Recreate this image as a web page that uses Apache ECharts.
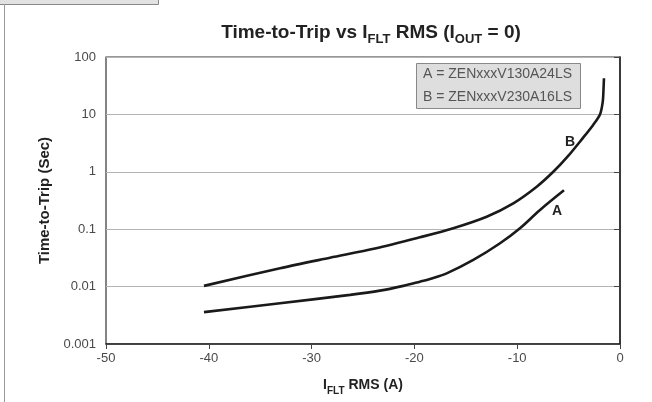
<!DOCTYPE html>
<html><head><meta charset="utf-8">
<script src="https://cdn.jsdelivr.net/npm/echarts@6/dist/echarts.min.js"></script>
<style>html,body{margin:0;padding:0;background:#fff}#c{width:652px;height:402px}</style>
</head><body><div id="c"></div>
<script>
// Curve A (ZENxxxV130A24LS)
const xA = [-40.47, -33.07, -26.26, -23.35, -21.08, -19.46, -18.48, -16.86, -14.27, -11.67, -9.73, -7.78, -5.45];
const yA = [0.00359, 0.00514, 0.00718, 0.0085, 0.0103, 0.0122, 0.0136, 0.0170, 0.0291, 0.0569, 0.104, 0.216, 0.475];
// Curve B (ZENxxxV230A16LS)
const xB = [-40.47, -33.07, -28.21, -23.83, -19.46, -16.22, -12.97, -10.38, -8.10, -6.49, -5.06, -3.70, -2.63, -1.95, -1.68, -1.60, -1.56];
const yB = [0.0103, 0.0209, 0.0318, 0.046, 0.0723, 0.104, 0.165, 0.282, 0.55, 1.0, 1.875, 3.71, 6.49, 9.95, 16.5, 28.6, 42.6];
// curve letter labels (data coords)
const labelA = [-6.13, 0.203];
const labelB = [-4.86, 3.29];
const yTicks = [0.001, 0.01, 0.1, 1, 10, 100];
const xTicks = [-50, -40, -30, -20, -10, 0];
const legendLines = ['A = ZENxxxV130A24LS', 'B = ZENxxxV230A16LS'];

const pairs = (xs, ys) => xs.map((x, i) => [x, ys[i]]);
const chart = echarts.init(document.getElementById('c'), null, {renderer: 'canvas'});
const FONT = 'Liberation Sans, Arial, sans-serif';
const lineStyle = {color: '#1a1a1a', width: 2.6};
function letter(name, coord) {
  return {
    symbol: 'circle', symbolSize: 2, silent: true,
    itemStyle: {color: 'rgba(0,0,0,0)'},
    label: {show: true, position: 'inside', formatter: name, fontFamily: FONT, fontWeight: 'bold', fontSize: 14, color: '#222'},
    data: [{coord: coord}]
  };
}
chart.setOption({
  animation: false,
  backgroundColor: '#fff',
  title: {
    text: '{b|Time-to-Trip vs I}{s|FLT}{b| RMS (I}{s|OUT}{b| = 0)}',
    left: 366, top: 15, textAlign: 'center',
    textStyle: {rich: {
      b: {fontFamily: FONT, fontWeight: 'bold', fontSize: 19, color: '#222', verticalAlign: 'bottom', lineHeight: 22},
      s: {fontFamily: FONT, fontWeight: 'bold', fontSize: 13, color: '#222', verticalAlign: 'bottom', lineHeight: 15, padding: [0, 0, -4, 0]}
    }}
  },
  grid: {left: 106, right: 32, top: 57, bottom: 58, show: true, borderColor: '#333', borderWidth: 1.2},
  xAxis: {
    type: 'value', min: xTicks[0], max: xTicks[xTicks.length - 1], interval: 10,
    name: '{b|I}{s|FLT}{b| RMS (A)}', nameLocation: 'middle', nameGap: 32,
    nameTextStyle: {rich: {
      b: {fontFamily: FONT, fontWeight: 'bold', fontSize: 14, color: '#222', verticalAlign: 'bottom', lineHeight: 16},
      s: {fontFamily: FONT, fontWeight: 'bold', fontSize: 10, color: '#222', verticalAlign: 'bottom', lineHeight: 12, padding: [0, 0, -4, 0]}
    }},
    axisLine: {show: true, onZero: false, lineStyle: {color: '#222', width: 1.5}},
    axisTick: {show: true, inside: false, length: 5, lineStyle: {color: '#444'}},
    axisLabel: {fontFamily: FONT, fontSize: 13, color: '#4a4a4a', margin: 8},
    splitLine: {show: false}
  },
  yAxis: {
    type: 'log', logBase: 10, min: yTicks[0], max: yTicks[yTicks.length - 1],
    name: 'Time-to-Trip (Sec)', nameLocation: 'middle', nameGap: 54, nameRotate: 90,
    nameTextStyle: {fontFamily: FONT, fontWeight: 'bold', fontSize: 15, color: '#222'},
    axisLine: {show: true, lineStyle: {color: '#222', width: 1.5}},
    axisTick: {show: true, inside: false, length: 6, lineStyle: {color: '#444'}},
    axisLabel: {fontFamily: FONT, fontSize: 13, color: '#4a4a4a', margin: 10,
      formatter: v => { const r = yTicks.find(t => Math.abs(Math.log10(t) - Math.log10(v)) < 1e-6); return r === undefined ? '' : String(r); }},
    splitLine: {show: true, lineStyle: {color: '#b4b4b4', width: 1.2}},
    minorTick: {show: false}
  },
  series: [
    {type: 'line', name: 'A', data: pairs(xA, yA), smooth: 0.35, showSymbol: false, lineStyle: lineStyle, markPoint: letter('A', labelA), z: 3},
    {type: 'line', name: 'B', data: pairs(xB, yB), smooth: 0.3, showSymbol: false, lineStyle: lineStyle, markPoint: letter('B', labelB), z: 3}
  ],
  graphic: [
    {type: 'rect', left: -1, top: -1, shape: {width: 159, height: 5}, style: {fill: '#e2e2e2', stroke: '#888', lineWidth: 1}},
    {type: 'line', shape: {x1: 4.5, y1: 4, x2: 4.5, y2: 402}, style: {stroke: '#9a9a9a', lineWidth: 1}},
    {type: 'rect', shape: {x: 416.5, y: 63.5, width: 164, height: 45}, style: {fill: '#dedede', stroke: '#888', lineWidth: 1}, z: 10},
    {type: 'text', x: 423, y: 74, style: {text: legendLines[0], font: '14px ' + FONT, fill: '#555', verticalAlign: 'middle'}, z: 11},
    {type: 'text', x: 423, y: 97, style: {text: legendLines[1], font: '14px ' + FONT, fill: '#555', verticalAlign: 'middle'}, z: 11}
  ]
});
</script></body></html>
